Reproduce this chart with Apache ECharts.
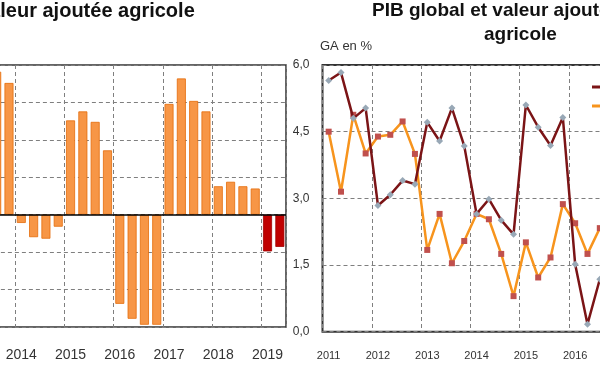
<!DOCTYPE html>
<html><head><meta charset="utf-8">
<script src="https://cdn.jsdelivr.net/npm/echarts@6/dist/echarts.min.js"></script>
<style>html,body{margin:0;padding:0;background:#fff;overflow:hidden;width:600px;height:372px}
#c{position:absolute;left:-60px;top:0;width:780px;height:372px}</style>
</head><body><div id="c"></div>
<script>
// Left chart: quarterly growth of agricultural value added (%)
const leftQuarters = ['2013T1','2013T2','2013T3','2013T4',
  '2014T1','2014T2','2014T3','2014T4',
  '2015T1','2015T2','2015T3','2015T4',
  '2016T1','2016T2','2016T3','2016T4',
  '2017T1','2017T2','2017T3','2017T4',
  '2018T1','2018T2','2018T3','2018T4',
  '2019T1','2019T2'];
const agriValues = [null, null, 19.1, 17.6,
  -1.1, -3.0, -3.2, -1.6,
  12.6, 13.8, 12.4, 8.6,
  -11.9, -13.9, -14.7, -14.7,
  14.8, 18.2, 15.2, 13.8,
  3.8, 4.4, 3.8, 3.5,
  -4.9, -4.3];
const forecastYear = '2019';

// Right chart: PIB global and other series (GA en %)
const rightQuarters = ['2011T1','2011T2','2011T3','2011T4',
  '2012T1','2012T2','2012T3','2012T4',
  '2013T1','2013T2','2013T3','2013T4',
  '2014T1','2014T2','2014T3','2014T4',
  '2015T1','2015T2','2015T3','2015T4',
  '2016T1','2016T2','2016T3','2016T4',
  '2017T1','2017T2','2017T3','2017T4'];
const pibGlobal = [5.65, 5.83, 4.80, 5.03,
  2.84, 3.08, 3.40, 3.32,
  4.71, 4.29, 5.03, 4.18,
  2.65, 2.98, 2.51, 2.19,
  5.10, 4.60, 4.19, 4.82,
  1.52, 0.17, 1.18];
const vaHorsAgri = [4.50, 3.15, 4.88, 4.01,
  4.39, 4.43, 4.73, 4.00,
  1.84, 2.65, 1.54, 2.04,
  2.65, 2.53, 1.75, 0.80,
  2.01, 1.22, 1.67, 2.87,
  2.44, 1.75, 2.33];
const rightTicks = [0, 1.5, 3, 4.5, 6];

const seriesNames = ['PIB global', 'VA hors agriculture'];

const OX = 60; // container offset (page x = chart x - OX)
const dash = {color: '#7f7f7f', type: [4, 3], width: 1};
const yearLabel = v => v.slice(0, 4);

const chart = echarts.init(document.getElementById('c'), null, {renderer: 'canvas'});
chart.setOption({
  animation: false,
  backgroundColor: '#fff',
  textStyle: {fontFamily: 'Liberation Sans, Arial, sans-serif'},
  graphic: [
    {type: 'text', left: OX - 22, top: 1, style: {text: 'valeur ajoutée agricole', font: 'bold 20px "Liberation Sans", Arial, sans-serif', fill: '#111'}},
    {type: 'text', left: OX + 372, top: 1, style: {text: 'PIB global et valeur ajoutée', font: 'bold 19px "Liberation Sans", Arial, sans-serif', fill: '#111'}},
    {type: 'text', left: OX + 484, top: 25, style: {text: 'agricole', font: 'bold 19px "Liberation Sans", Arial, sans-serif', fill: '#111'}},
    {type: 'text', left: OX + 320, top: 40, style: {text: 'GA en %', font: '13px "Liberation Sans", Arial, sans-serif', fill: '#333'}}
  ],
  legend: {
    orient: 'vertical', left: OX + 587, top: 75,
    icon: 'rect', itemWidth: 26, itemHeight: 3, itemGap: 5,
    textStyle: {fontSize: 12, lineHeight: 14, color: '#333'},
    data: [
      {name: seriesNames[0], itemStyle: {color: '#7b1416'}},
      {name: seriesNames[1], itemStyle: {color: '#f7941d'}}
    ]
  },
  grid: [
    {left: OX - 34.1, top: 65, width: 320.1, height: 262, show: true, borderColor: '#333', borderWidth: 1.5, containLabel: false},
    {left: OX + 322.5, top: 65, width: 345.1, height: 266.7, show: true, borderColor: '#333', borderWidth: 2, containLabel: false}
  ],
  xAxis: [
    {type: 'category', gridIndex: 0, data: leftQuarters, boundaryGap: true,
     axisLine: {show: false, onZero: false}, axisTick: {show: false, interval: 3},
     axisLabel: {interval: 3, formatter: yearLabel, fontSize: 14, color: '#333', margin: 21},
     splitLine: {show: true, interval: 3, lineStyle: dash}},
    {type: 'category', gridIndex: 1, data: rightQuarters, boundaryGap: true,
     axisLine: {show: false, onZero: false}, axisTick: {show: false, interval: 3},
     axisLabel: {interval: 3, formatter: yearLabel, fontSize: 11, color: '#333', margin: 19},
     splitLine: {show: true, interval: 3, lineStyle: dash}}
  ],
  yAxis: [
    {type: 'value', gridIndex: 0, min: -15, max: 20, interval: 5,
     axisLine: {show: false}, axisTick: {show: false}, axisLabel: {show: false},
     splitLine: {show: true, lineStyle: dash}},
    {type: 'value', gridIndex: 1, min: rightTicks[0], max: rightTicks[rightTicks.length - 1], interval: 1.5,
     axisLine: {show: false}, axisTick: {show: false},
     axisLabel: {fontSize: 12, color: '#333', margin: 13, formatter: v => v.toFixed(1).replace('.', ',')},
     splitLine: {show: true, lineStyle: dash}}
  ],
  series: [
    {type: 'bar', name: 'VA agricole', xAxisIndex: 0, yAxisIndex: 0, barWidth: 9,
     data: agriValues.map((v, i) => ({
       value: v,
       itemStyle: leftQuarters[i].startsWith(forecastYear)
         ? {color: '#c00000', borderColor: '#a00000', borderWidth: 0.8}
         : {color: '#f79646', borderColor: '#e46c0a', borderWidth: 0.8}
     })),
     markLine: {silent: true, symbol: 'none', label: {show: false},
       lineStyle: {color: '#000', type: 'solid', width: 1.5}, data: [{yAxis: 0}]}},
    {type: 'line', name: seriesNames[1], xAxisIndex: 1, yAxisIndex: 1, data: vaHorsAgri,
     showAllSymbol: true,
     lineStyle: {color: '#f7941d', width: 2.5}, symbol: 'rect', symbolSize: 6,
     itemStyle: {color: '#c0504d'}, z: 3},
    {type: 'line', name: seriesNames[0], xAxisIndex: 1, yAxisIndex: 1, data: pibGlobal,
     showAllSymbol: true,
     lineStyle: {color: '#7b1416', width: 2.5}, symbol: 'diamond', symbolSize: 7,
     itemStyle: {color: '#98a8b6'}, z: 4}
  ]
});
</script></body></html>
